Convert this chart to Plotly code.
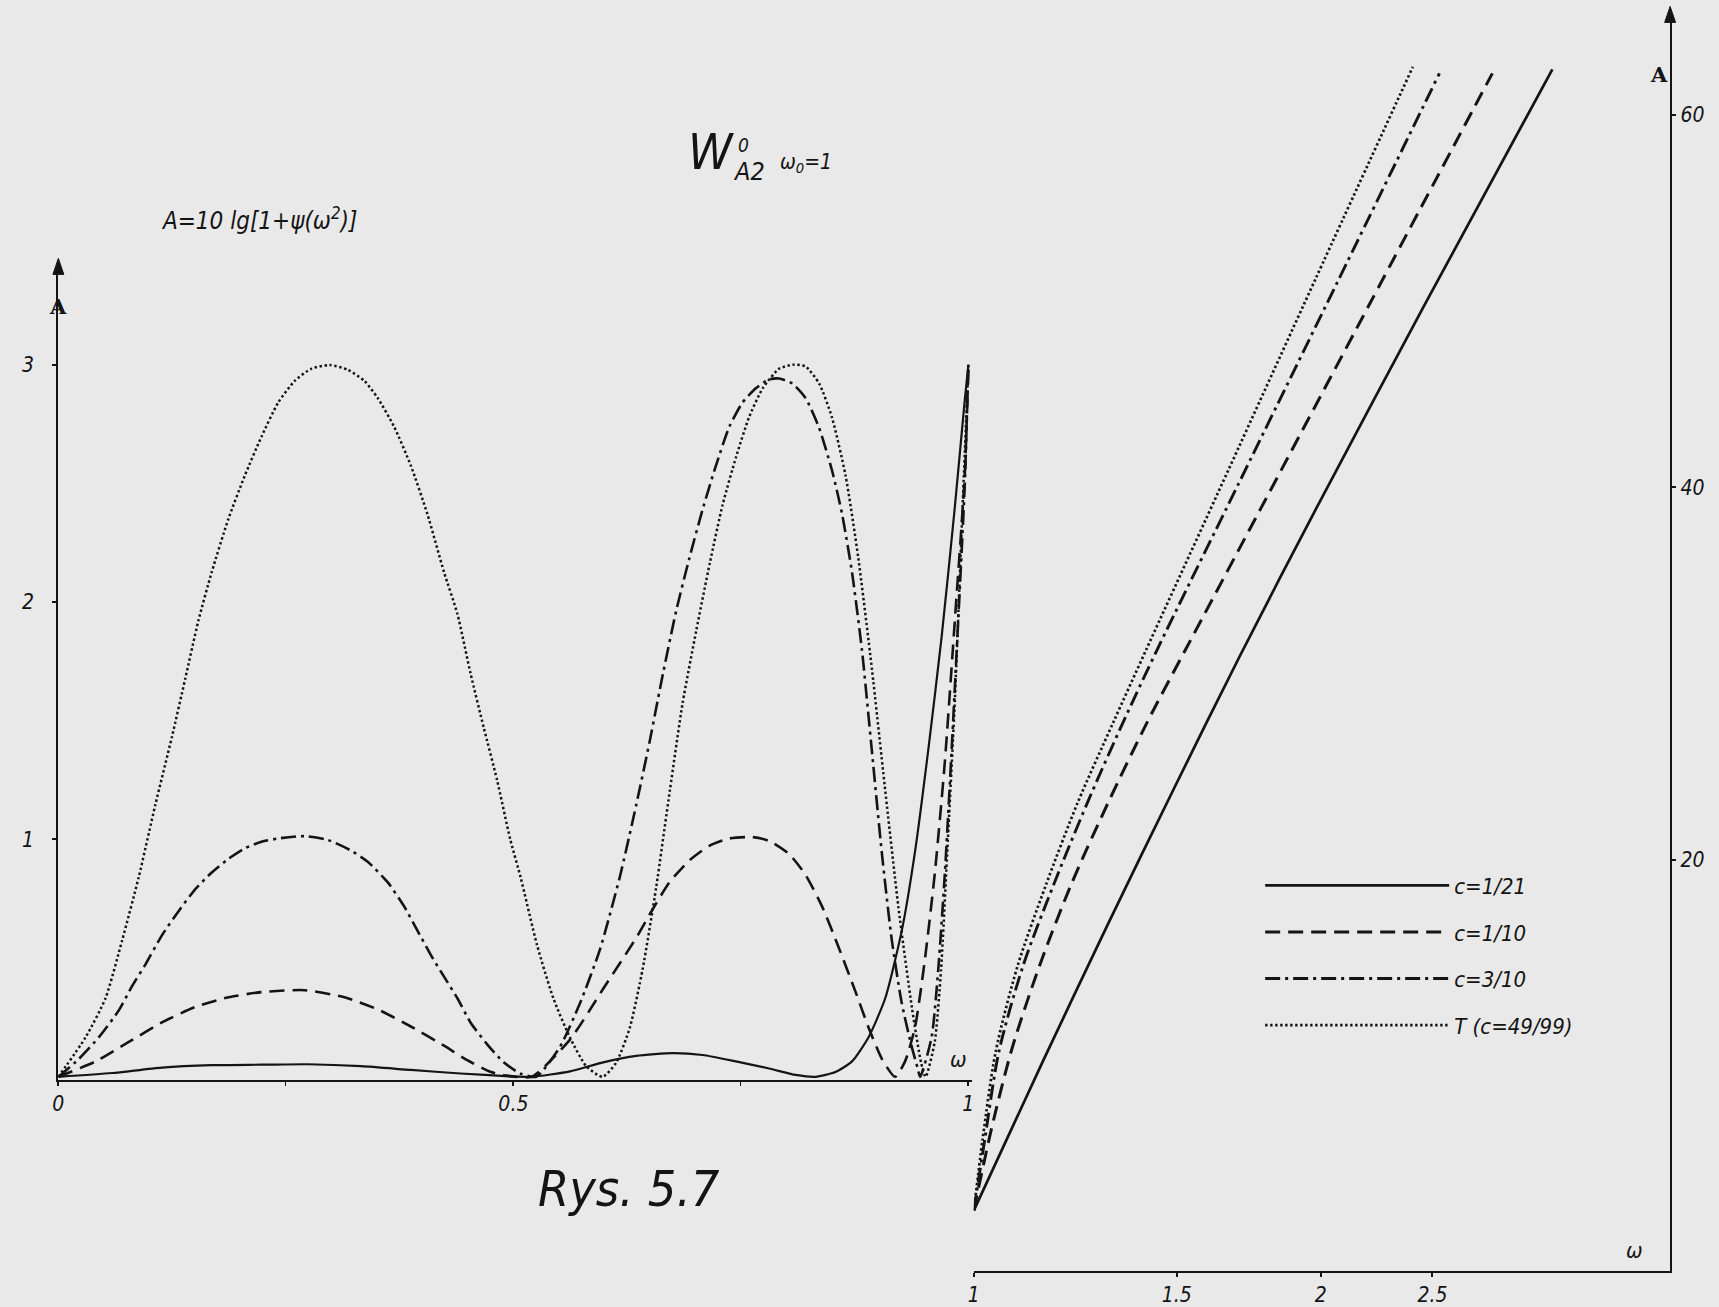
import plotly.graph_objects as go

# ---------------- data: passband (left panel), omega in [0,1], A in dB ----------------
w_c21_pass = [0, 0.0591, 0.1138, 0.1685, 0.2232, 0.2742, 0.3326, 0.3873, 0.4420, 0.4966, 0.52,
              0.5622, 0.5987, 0.6351, 0.6752, 0.7080, 0.7445, 0.7809, 0.8101, 0.832, 0.8539,
              0.8721, 0.8903, 0.9086, 0.9268, 0.9414, 0.9560, 0.9705, 0.9851, 0.9960, 1.0]
A_c21_pass = [0, 0.016, 0.039, 0.049, 0.051, 0.053, 0.045, 0.029, 0.014, 0.002, 0,
              0.023, 0.061, 0.088, 0.100, 0.092, 0.065, 0.035, 0.008, 0, 0.020,
              0.065, 0.167, 0.331, 0.616, 0.95, 1.38, 1.85, 2.40, 2.85, 3.0]

w_c10_pass = [0, 0.0409, 0.0774, 0.1138, 0.1503, 0.1868, 0.2232, 0.2706, 0.3144, 0.3509, 0.3873,
              0.4238, 0.4493, 0.4748, 0.4930, 0.52, 0.5622, 0.5987, 0.6351, 0.6534, 0.6716,
              0.6935, 0.7153, 0.7372, 0.7627, 0.7809, 0.8028, 0.8210, 0.8392, 0.8575, 0.8757,
              0.8903, 0.9049, 0.9194, 0.9304, 0.9413, 0.9522, 0.9632, 0.9742, 0.9851, 0.9960, 1.0]
A_c10_pass = [0, 0.065, 0.147, 0.229, 0.294, 0.335, 0.357, 0.365, 0.335, 0.284, 0.212,
              0.131, 0.070, 0.021, 0.005, 0, 0.157, 0.371, 0.586, 0.708, 0.820,
              0.912, 0.973, 1.004, 1.010, 0.994, 0.939, 0.851, 0.718, 0.545, 0.361,
              0.208, 0.076, 0, 0.065, 0.208, 0.494, 0.861, 1.330, 1.922, 2.534, 3.0]

w_c3_pass = [0, 0.0227, 0.0446, 0.0664, 0.0810, 0.0956, 0.1138, 0.1321, 0.1503, 0.1685, 0.1868,
             0.2050, 0.2232, 0.2415, 0.2706, 0.2961, 0.3217, 0.3399, 0.3618, 0.3800, 0.3946,
             0.4092, 0.4238, 0.4385, 0.4529, 0.4712, 0.4894, 0.5076, 0.5250, 0.5513, 0.5732,
             0.5950, 0.6169, 0.6351, 0.6497, 0.6643, 0.6789, 0.6935, 0.7080, 0.7226, 0.7372,
             0.7517, 0.7664, 0.7809, 0.7919, 0.8065, 0.8210, 0.8356, 0.8502, 0.8612, 0.8721,
             0.8830, 0.8940, 0.9049, 0.9158, 0.9268, 0.9377, 0.9440, 0.9470, 0.9596, 0.9669,
             0.9742, 0.9815, 0.9888, 0.9960, 1.0]
A_c3_pass = [0, 0.076, 0.167, 0.28, 0.382, 0.473, 0.596, 0.698, 0.790, 0.861, 0.918,
             0.963, 0.990, 1.004, 1.014, 0.998, 0.953, 0.906, 0.820, 0.718, 0.616,
             0.514, 0.422, 0.331, 0.229, 0.137, 0.061, 0.014, 0, 0.127, 0.310,
             0.535, 0.841, 1.147, 1.412, 1.697, 1.963, 2.187, 2.391, 2.575, 2.738,
             2.840, 2.901, 2.938, 2.942, 2.921, 2.860, 2.738, 2.554, 2.371, 2.126,
             1.799, 1.371, 0.943, 0.577, 0.310, 0.127, 0.04, 0, 0.167, 0.453,
             0.861, 1.371, 1.922, 2.493, 3.0]

w_T_pass = [0, 0.0300, 0.0518, 0.0701, 0.0883, 0.1066, 0.1248, 0.1394, 0.1539, 0.1685, 0.1868,
            0.2050, 0.2232, 0.2415, 0.2597, 0.2779, 0.2980, 0.3180, 0.3363, 0.3509, 0.3691,
            0.3873, 0.4055, 0.4238, 0.4385, 0.4529, 0.4675, 0.4821, 0.4966, 0.508, 0.526,
            0.544, 0.562, 0.580, 0.598, 0.613, 0.628, 0.642, 0.657, 0.672, 0.686,
            0.701, 0.716, 0.730, 0.745, 0.759, 0.774, 0.792, 0.807, 0.821, 0.836,
            0.850, 0.865, 0.879, 0.894, 0.908, 0.923, 0.938, 0.948, 0.953, 0.963,
            0.970, 0.977, 0.985, 0.992, 1.0]
A_T_pass = [0, 0.167, 0.331, 0.575, 0.841, 1.147, 1.432, 1.677, 1.922, 2.126, 2.350,
            2.534, 2.697, 2.840, 2.932, 2.983, 2.999, 2.979, 2.932, 2.860, 2.738,
            2.575, 2.371, 2.126, 1.95, 1.70, 1.47, 1.25, 1.0, 0.84, 0.555,
            0.33, 0.167, 0.045, 0.0, 0.06, 0.208, 0.453, 0.80, 1.208, 1.575,
            1.881, 2.167, 2.411, 2.615, 2.779, 2.901, 2.983, 3.0, 2.993, 2.921,
            2.779, 2.534, 2.187, 1.718, 1.228, 0.718, 0.29, 0.06, 0, 0.147,
            0.453, 0.963, 1.575, 2.248, 3.0]

# ---------------- data: stopband (right panel), omega >= 1, A in dB ----------------
w_c21_stop = [1.0, 1.1472, 1.3075, 1.4905, 1.7023, 1.979, 2.461, 3.177]
A_c21_stop = [1.18, 9.15, 16.56, 23.79, 30.97, 38.79, 49.79, 62.44]

w_c10_stop = [1.0, 1.0355, 1.0793, 1.1398, 1.2141, 1.3075, 1.4144, 1.5266, 1.7747, 2.2068, 2.818]
A_c10_stop = [1.18, 5.53, 9.88, 14.29, 18.65, 23.06, 27.41, 31.29, 38.88, 49.88, 62.22]

w_c3_stop = [1.0, 1.0221, 1.0514, 1.1030, 1.1725, 1.2545, 1.3480, 1.4425, 1.6986, 2.0671, 2.5352]
A_c3_stop = [1.18, 5.0, 9.71, 14.29, 18.65, 23.06, 27.41, 31.29, 40.24, 51.0, 62.22]

w_T_stop = [1.0, 1.0176, 1.0446, 1.0911, 1.1548, 1.2303, 1.3219, 1.4113, 1.6624, 1.979, 2.404]
A_T_stop = [1.18, 5.0, 9.71, 14.29, 18.65, 23.06, 27.41, 31.29, 40.91, 51.18, 62.57]

series_names = ["c=1/21", "c=1/10", "c=3/10", "T (c=49/99)"]
left_x_ticks = [0, 0.5, 1]
left_x_labels = ["0", "0.5", "1"]
left_x_minor = [0.25, 0.75]
left_y_ticks = [1, 2, 3]
right_x_ticks = [1, 1.5, 2, 2.5]
right_x_labels = ["1", "1.5", "2", "2.5"]
right_y_ticks = [20, 40, 60]

# ---------------- styling ----------------
INK = "#141414"
BG = "#e9e9e9"
FONT = "Liberation Sans Narrow, DejaVu Sans Condensed, Liberation Sans, sans-serif"
dashes = ["solid", "15px,8px", "15px,5px,3px,5px", "2.4px,2.6px"]
widths_left = [2.2, 2.6, 2.6, 2.5]
widths_right = [2.7, 3.0, 2.9, 2.7]

passband = [(w_c21_pass, A_c21_pass), (w_c10_pass, A_c10_pass), (w_c3_pass, A_c3_pass), (w_T_pass, A_T_pass)]
stopband = [(w_c21_stop, A_c21_stop), (w_c10_stop, A_c10_stop), (w_c3_stop, A_c3_stop), (w_T_stop, A_T_stop)]

fig = go.Figure()
for i, name in enumerate(series_names):
    wp, ap = passband[i]
    fig.add_trace(go.Scatter(x=wp, y=ap, mode="lines", name=name, legendgroup=name, showlegend=False,
                             line=dict(color=INK, dash=dashes[i], width=widths_left[i], shape="spline", smoothing=0.6),
                             xaxis="x", yaxis="y", hoverinfo="skip"))
for i, name in enumerate(series_names):
    ws, as_ = stopband[i]
    fig.add_trace(go.Scatter(x=ws, y=as_, mode="lines", name=name, legendgroup=name, showlegend=True,
                             line=dict(color=INK, dash=dashes[i], width=widths_right[i], shape="spline", smoothing=0.8),
                             xaxis="x2", yaxis="y2", hoverinfo="skip"))

tickfont = dict(family=FONT, size=21, color=INK, style="italic")
axis_common = dict(showline=True, linecolor=INK, linewidth=2.2, ticks="outside", ticklen=4, tickwidth=1.6,
                   tickcolor=INK, showgrid=False, zeroline=False, tickfont=tickfont)

fig.update_layout(
    width=1719, height=1307,
    margin=dict(l=0, r=0, t=0, b=0),
    paper_bgcolor=BG, plot_bgcolor=BG,
    xaxis=dict(domain=[0.0306, 0.5646], range=[0, 1.004], tickvals=left_x_ticks, ticktext=left_x_labels,
               minor=dict(tickvals=left_x_minor, ticks="outside", ticklen=4, tickwidth=1.4, tickcolor=INK),
               anchor="y", **axis_common),
    yaxis=dict(domain=[0.1733, 0.7945], range=[-0.012, 3.406], tickvals=left_y_ticks, anchor="x",
               ticklabelstandoff=14, **axis_common),
    xaxis2=dict(domain=[0.56568, 0.97260], type="log", range=[0, 0.6042], tickvals=right_x_ticks,
                ticktext=right_x_labels, anchor="y2", **axis_common),
    yaxis2=dict(domain=[0.0270, 0.98745], range=[-2.06, 65.28], tickvals=right_y_ticks, side="right",
                anchor="x2", **axis_common),
    legend=dict(x=0.7330, y=0.338, xanchor="left", yanchor="top", bgcolor="rgba(0,0,0,0)",
                itemwidth=184, tracegroupgap=15, traceorder="grouped",
                font=dict(family=FONT, size=22, color=INK, style="italic")),
    showlegend=True,
)

def txt(x, y, s, size, italic=True, bold=False, family=FONT):
    fig.add_annotation(x=x / 1719, y=1 - y / 1307, xref="paper", yref="paper", text=s, showarrow=False,
                       xanchor="center", yanchor="middle",
                       font=dict(family=family, size=size, color=INK,
                                 style="italic" if italic else "normal",
                                 weight="bold" if bold else "normal"))

txt(708, 152, "W", 50)
txt(741, 145, "0", 19)
txt(746, 172, "A2", 25)
txt(804, 163, "ω<sub>0</sub>=1", 21)
txt(254, 219, "A=10 lg[1+ψ(ω<sup>2</sup>)]", 24)
txt(52, 307, "A", 21, italic=False, bold=True, family="DejaVu Serif, serif")
txt(1661, 75, "A", 21, italic=False, bold=True, family="DejaVu Serif, serif")
txt(957, 1060, "ω", 22)
txt(1636, 1251, "ω", 22)
txt(626, 1190, "Rys. 5.7", 50)

# arrowheads at the tops of the vertical axes (drawn as small triangles in paper space)
def arrowhead(px, py):
    W, H = 1719.0, 1307.0
    pts = [(px, py - 10), (px - 5.5, py + 6), (px + 5.5, py + 6)]
    path = "M " + " L ".join(f"{x / W:.5f},{1 - y / H:.5f}" for x, y in pts) + " Z"
    fig.add_shape(type="path", path=path, xref="paper", yref="paper", fillcolor=INK, line=dict(color=INK, width=1))

arrowhead(0.0306 * 1719, (1 - 0.7945) * 1307)
arrowhead(0.9726 * 1719, (1 - 0.98745) * 1307)

fig.write_html("out.html")
